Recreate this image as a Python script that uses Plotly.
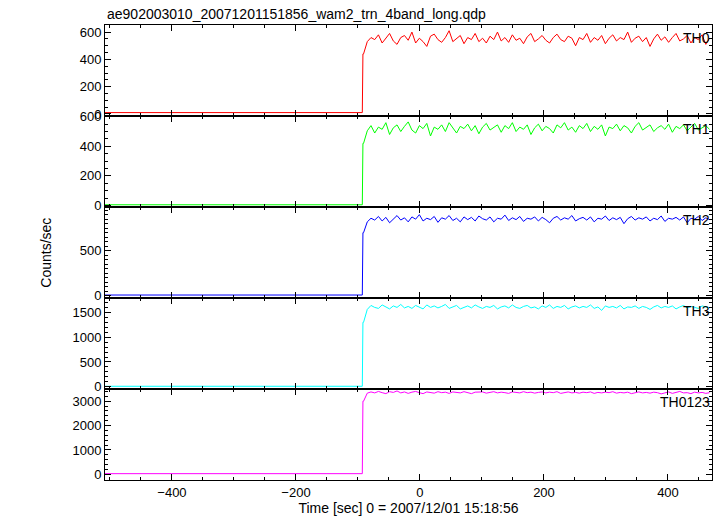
import plotly.graph_objects as go
from plotly.subplots import make_subplots

# pre-burst flat level and post-step sampled times
t_pre = [-508, -93, -92]
t_post = list(range(-91, 468, 6))

names = ["TH0", "TH1", "TH2", "TH3", "TH0123"]
colors = ["#ff0000", "#00ff00", "#0000ff", "#00ffff", "#ff00ff"]
pre_level = [10, 5, 8, 10, 30]

th0 = [440, 530, 560, 545, 580, 520, 555, 590, 535, 510, 560, 575, 540, 600, 520, 555, 530, 495, 570, 585,
       545, 525, 560, 610, 530, 550, 575, 515, 560, 545, 590, 530, 555, 520, 570, 545, 600, 535, 560, 525,
       580, 540, 555, 515, 565, 590, 530, 550, 575, 540, 520, 560, 585, 545, 530, 570, 555, 500, 560, 545,
       590, 525, 560, 540, 575, 515, 555, 580, 535, 560, 545, 600, 525, 555, 570, 530, 560, 495, 550, 585,
       540, 565, 525, 560, 590, 535, 550, 575, 520, 560, 545, 580, 510, 555]
th1 = [420, 505, 540, 490, 530, 515, 560, 480, 525, 545, 500, 535, 565, 510, 490, 540, 520, 555, 470, 530,
       515, 545, 500, 560, 525, 490, 535, 520, 550, 505, 540, 485, 530, 555, 510, 525, 545, 495, 540, 520,
       560, 500, 530, 515, 545, 480, 525, 550, 505, 535, 520, 490, 545, 525, 560, 510, 530, 495, 540, 520,
       555, 500, 535, 515, 545, 470, 530, 520, 550, 505, 540, 525, 490, 535, 560, 510, 530, 545, 500, 525,
       540, 515, 550, 495, 535, 520, 545, 505, 530, 555, 510, 525, 540, 515]
th2 = [700, 820, 860, 840, 880, 830, 870, 810, 855, 890, 840, 865, 820, 875, 850, 900, 830, 860, 845, 880,
       815, 865, 850, 890, 835, 860, 820, 875, 845, 870, 830, 885, 855, 840, 875, 820, 860, 850, 895, 835,
       865, 845, 880, 825, 860, 850, 875, 830, 870, 845, 810, 860, 880, 840, 865, 850, 890, 830, 855, 870,
       840, 875, 820, 860, 850, 885, 835, 865, 845, 870, 800, 855, 880, 840, 865, 850, 875, 830, 860, 845,
       885, 825, 860, 850, 870, 840, 875, 810, 860, 850, 880, 835, 865, 845]
th3 = [1300, 1560, 1640, 1600, 1580, 1650, 1610, 1570, 1630, 1600, 1660, 1590, 1620, 1580, 1640, 1610, 1570, 1650, 1600, 1630,
       1590, 1620, 1660, 1580, 1610, 1640, 1570, 1600, 1630, 1590, 1650, 1610, 1580, 1620, 1600, 1640, 1570, 1610, 1630, 1590,
       1650, 1600, 1580, 1620, 1640, 1590, 1610, 1570, 1630, 1600, 1650, 1580, 1620, 1600, 1640, 1570, 1610, 1630, 1590, 1620,
       1600, 1650, 1580, 1610, 1540, 1630, 1600, 1620, 1590, 1640, 1570, 1610, 1600, 1630, 1580, 1620, 1600, 1560, 1610, 1640,
       1590, 1620, 1600, 1630, 1570, 1610, 1640, 1590, 1620, 1600, 1580, 1630, 1610, 1590]
th0123 = [3000, 3330, 3380, 3340, 3400, 3350, 3310, 3390, 3360, 3420, 3340, 3380, 3320, 3370, 3400, 3350, 3310, 3380, 3360, 3330,
          3390, 3350, 3370, 3320, 3380, 3360, 3340, 3390, 3350, 3310, 3370, 3360, 3380, 3330, 3360, 3390, 3340, 3370, 3350, 3320,
          3380, 3360, 3340, 3390, 3350, 3370, 3330, 3360, 3380, 3340, 3370, 3350, 3390, 3320, 3360, 3380, 3340, 3360, 3330, 3370,
          3350, 3380, 3320, 3360, 3340, 3370, 3350, 3390, 3330, 3360, 3340, 3370, 3310, 3350, 3380, 3340, 3360, 3330, 3370, 3350,
          3300, 3340, 3380, 3320, 3360, 3400, 3340, 3350, 3310, 3370, 3340, 3360, 3320, 3350]
series = [th0, th1, th2, th3, th0123]

y_ranges = [[-15, 652], [-10, 605], [-25, 985], [-45, 1790], [-230, 3500]]
y_ticks = [[0, 200, 400, 600], [0, 200, 400, 600], [0, 500], [0, 500, 1000, 1500], [0, 1000, 2000, 3000]]

fig = make_subplots(rows=5, cols=1, shared_xaxes=True, vertical_spacing=0)
for i, (nm, col, vals) in enumerate(zip(names, colors, series)):
    xs = t_pre + t_post
    ys = [pre_level[i], pre_level[i], vals[0]] + vals
    fig.add_trace(go.Scatter(x=xs, y=ys, mode="lines", line=dict(color=col, width=1),
                             showlegend=False), row=i + 1, col=1)
    fig.update_yaxes(range=y_ranges[i], tickvals=y_ticks[i], row=i + 1, col=1)

axstyle = dict(showline=True, linecolor="black", linewidth=1, mirror="allticks", ticks="inside",
               ticklen=6, tickcolor="black", showgrid=False, zeroline=False,
               tickfont=dict(size=13, color="black"),
               minor=dict(ticks="inside", ticklen=3, tickcolor="black"))
fig.update_xaxes(**axstyle, range=[-508, 471], tickvals=[-400, -200, 0, 200, 400])
fig.update_yaxes(**axstyle)
fig.update_xaxes(title=dict(text="Time [sec] 0 = 2007/12/01 15:18:56", font=dict(size=14, color="black"), standoff=2),
                 row=5, col=1)

anns = []
for i, nm in enumerate(names):
    yref = "y domain" if i == 0 else f"y{i+1} domain"
    anns.append(dict(text=nm, x=1.0, y=0.97, xref="paper", yref=yref, xanchor="right", yanchor="top",
                     showarrow=False, font=dict(size=14, color="black")))
anns.append(dict(text="ae902003010_20071201151856_wam2_trn_4band_long.qdp", x=0, y=1, xref="paper",
                 yref="paper", xanchor="left", yanchor="bottom", showarrow=False,
                 font=dict(size=14, color="black"), yshift=1))
anns.append(dict(text="Counts/sec", x=-0.115, y=0.5, xref="paper", yref="paper", textangle=-90,
                 showarrow=False, font=dict(size=14, color="black")))
fig.update_layout(width=717, height=516, margin=dict(l=105, r=5, t=25, b=36),
                  paper_bgcolor="white", plot_bgcolor="white", annotations=anns,
                  font=dict(family="Liberation Sans, Arial", color="black"))
fig.write_html("out.html", config={"displayModeBar": False},
               post_script="document.body.style.margin='0';document.body.style.overflow='hidden';")
